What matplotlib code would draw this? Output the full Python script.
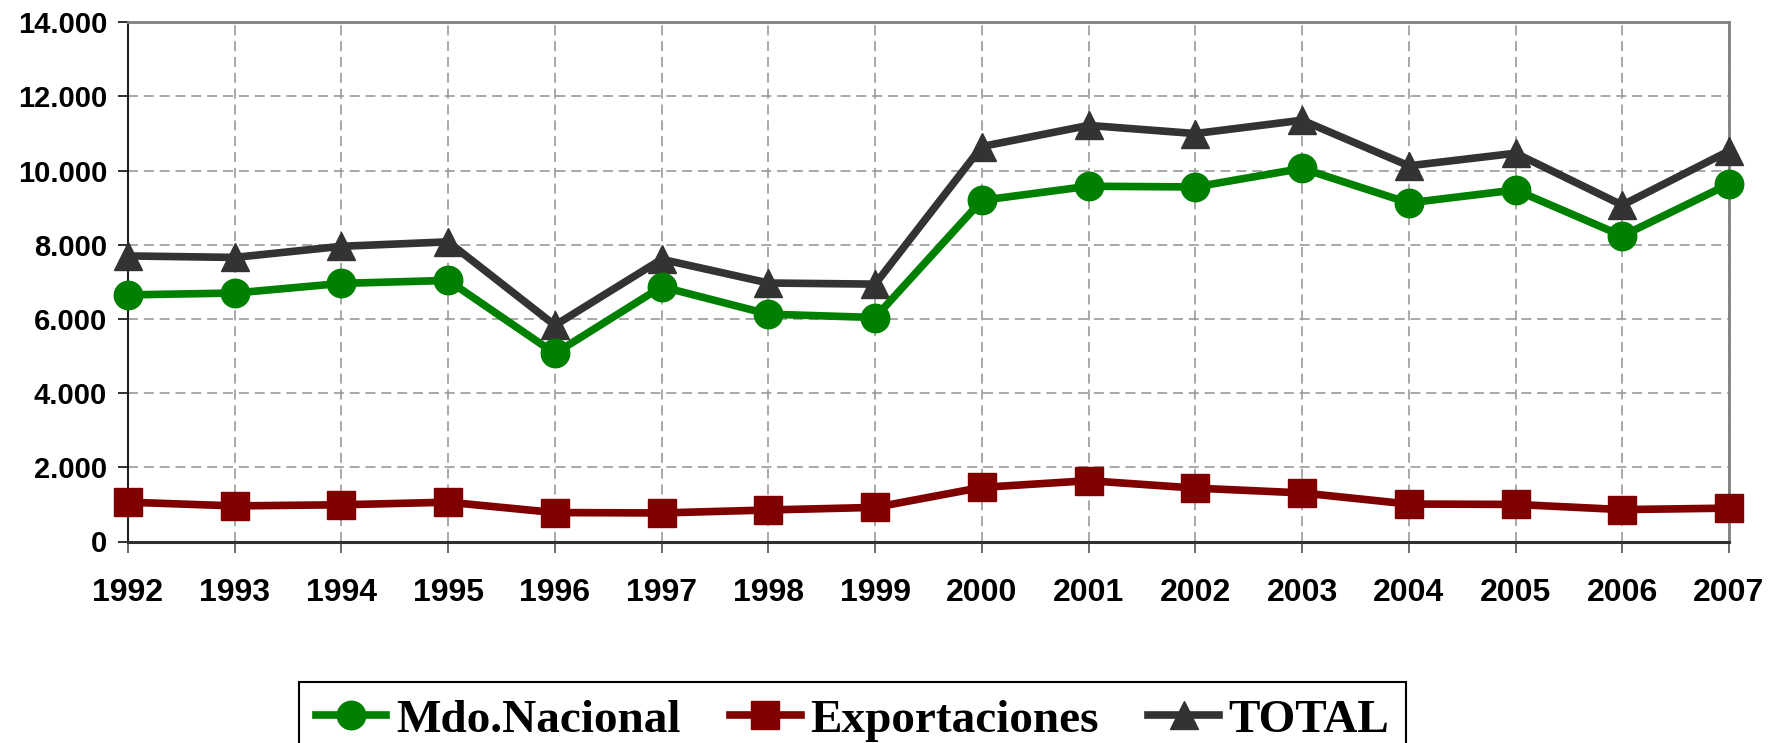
import matplotlib.pyplot as plt
from matplotlib.ticker import FuncFormatter
from matplotlib.lines import Line2D

years = list(range(1992, 2008))
mdo_nacional = [6650, 6700, 6960, 7040, 5070, 6870, 6130, 6040,
                9200, 9580, 9560, 10060, 9130, 9480, 8240, 9640]
exportaciones = [1060, 960, 990, 1060, 780, 770, 850, 920,
                 1460, 1640, 1440, 1310, 1010, 1000, 860, 900]
total = [7700, 7660, 7960, 8080, 5830, 7610, 6970, 6940,
         10650, 11220, 11000, 11360, 10130, 10470, 9070, 10530]

labels = ["Mdo.Nacional", "Exportaciones", "TOTAL"]
colors = ["#008000", "#800000", "#333333"]
markers = ["o", "s", "^"]

W, H = 1769, 743
fig = plt.figure(figsize=(W / 100, H / 100), dpi=100)
ax = fig.add_axes([128 / W, 1 - 541.5 / H, (1729 - 128) / W, (541.5 - 22.3) / H])

series = [mdo_nacional, exportaciones, total]
zorders = [5, 4, 3]
for vals, lab, col, mk, z in zip(series, labels, colors, markers, zorders):
    ax.plot(years, vals, color=col, marker=mk, markersize=20.5, linewidth=5.5,
            label=lab, clip_on=False, zorder=z)

ax.set_xlim(1992, 2007)
ax.set_ylim(0, 14000)
ax.set_xticks(years)
ax.set_yticks(range(0, 14001, 2000))
ax.yaxis.set_major_formatter(FuncFormatter(lambda v, p: f"{int(v):,}".replace(",", ".")))

ax.grid(True, linestyle=(0, (6, 3.5)), color="#9a9a9a", linewidth=1.2, zorder=0)
ax.set_axisbelow(True)

for s in ["top", "right"]:
    ax.spines[s].set_color("#808080")
    ax.spines[s].set_linewidth(2)
ax.spines["left"].set_color("#202020")
ax.spines["left"].set_linewidth(1.5)
ax.spines["bottom"].set_color("#303030")
ax.spines["bottom"].set_linewidth(2.2)

ax.tick_params(axis="y", direction="out", length=7, width=1.3, color="#202020",
               pad=8, labelsize=21)
ax.tick_params(axis="x", direction="out", length=8, width=1.3, color="#606060",
               pad=18, labelsize=23)
for t in ax.get_xticklabels() + ax.get_yticklabels():
    t.set_fontfamily("Liberation Sans")
    t.set_fontweight("bold")

handles = [Line2D([], [], color=c, marker=m, markersize=20.5, linewidth=5.5)
           for c, m in zip(colors, markers)]
leg = fig.legend(handles, labels, loc="upper left",
                 bbox_to_anchor=(299 / W, 1 - 682 / H), ncol=3,
                 prop={"family": "Liberation Serif", "weight": "bold", "size": 34},
                 frameon=True, fancybox=False, edgecolor="black", framealpha=1,
                 borderpad=0.35, handlelength=1.5, handletextpad=0.2,
                 columnspacing=1.05, borderaxespad=0)
leg.get_frame().set_linewidth(1.5)

fig.savefig("out.png", dpi=100)
